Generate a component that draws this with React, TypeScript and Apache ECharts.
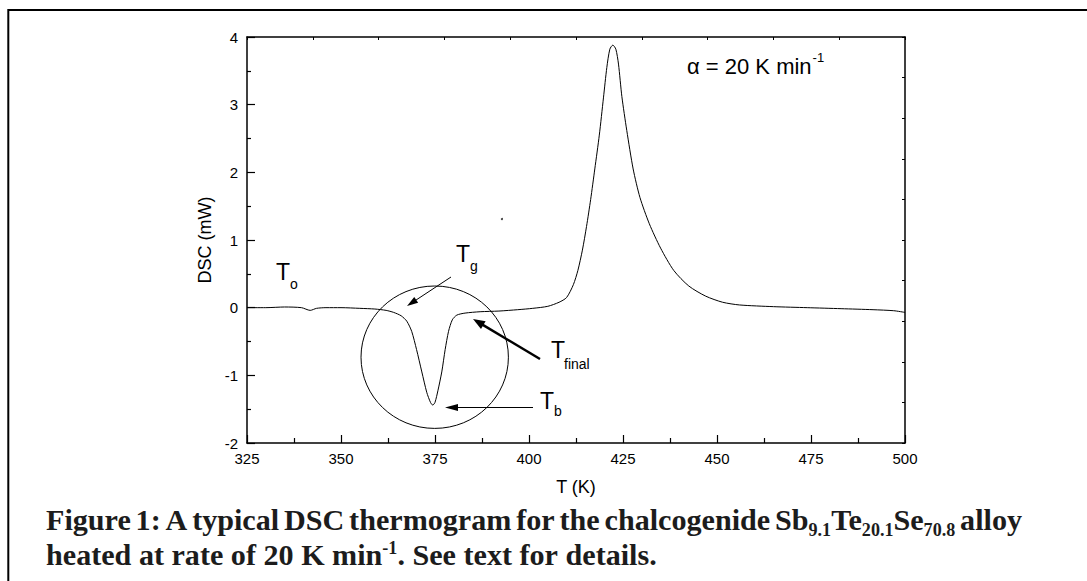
import React, { useEffect, useRef } from "react";
import * as echarts from "echarts";

// ---- data ----
const temperatureK = [
  325, 330, 335, 339.5, 341.8, 343.5, 346, 350, 355, 359, 362, 364, 366, 367.5, 368.8,
  370.1, 371.5, 372.8, 373.8, 374.4, 375.0, 375.8, 376.8, 377.7, 378.6, 379.6, 380.8,
  383, 387, 392, 397, 401, 405, 408, 410, 411.8, 413, 414.2, 415.3, 416.4, 417.5,
  418.7, 419.8, 420.7, 421.5, 422.3, 423.1, 423.8, 424.7, 426.0, 427.7, 429.5, 432,
  435, 438.5, 442.5, 447, 451.5, 456, 465, 474, 483, 491.5, 497, 500,
];
const dscMW = [
  0.0, 0.0, 0.01, 0.0, -0.04, -0.01, 0.0, 0.0, -0.01, -0.02, -0.04, -0.07, -0.12, -0.2,
  -0.35, -0.62, -0.95, -1.25, -1.4, -1.44, -1.4, -1.22, -0.95, -0.62, -0.35, -0.18,
  -0.11, -0.08, -0.06, -0.05, -0.03, -0.01, 0.02, 0.08, 0.15, 0.34, 0.55, 0.85, 1.2,
  1.6, 2.05, 2.55, 3.1, 3.55, 3.82, 3.88, 3.82, 3.6, 3.12, 2.62, 2.05, 1.63, 1.24,
  0.88, 0.55, 0.32, 0.17, 0.08, 0.04, 0.015, 0.0, -0.015, -0.03, -0.045, -0.07,
];
const strayPoint = [[392.8, 1.31]];
const xRange = [325, 500];
const xStep = 25;
const yRange = [-2, 4];
const yStep = 1;
const xName = "T (K)";
const yName = "DSC (mW)";
const rateText = "α = 20 K min";
const rateSup = "-1";
const captionLine1 =
  "Figure 1: A typical DSC thermogram for the chalcogenide Sb_{9.1}Te_{20.1}Se_{70.8} alloy";
const captionLine2 = "heated at rate of 20 K min^{-1}. See text for details.";

// ---- helpers ----
const SANS = "'Liberation Sans', Arial, sans-serif";
const SERIF = "'Liberation Serif', 'Times New Roman', serif";

function arrow(x1: number, y1: number, x2: number, y2: number, lw: number, hl: number, hw: number) {
  const dx = x2 - x1, dy = y2 - y1;
  const len = Math.hypot(dx, dy);
  const ux = dx / len, uy = dy / len;
  const bx = x2 - ux * hl, by = y2 - uy * hl;
  const px = -uy, py = ux;
  return [
    {
      type: "line",
      shape: { x1, y1, x2: bx + ux * 2, y2: by + uy * 2 },
      style: { stroke: "#000", lineWidth: lw },
      z: 10,
    },
    {
      type: "polygon",
      shape: {
        points: [
          [x2, y2],
          [bx + (px * hw) / 2, by + (py * hw) / 2],
          [bx - (px * hw) / 2, by - (py * hw) / 2],
        ],
      },
      style: { fill: "#000" },
      z: 10,
    },
  ];
}

function txt(t: string, x: number, y: number, size: number, extra: any = {}) {
  return {
    type: "text",
    x,
    y,
    z: 10,
    style: {
      text: t,
      fontFamily: SANS,
      fontSize: size,
      lineHeight: size,
      fill: "#000",
      align: "left",
      verticalAlign: "middle",
      ...extra,
    },
  };
}

type Seg = { t: string; k: "n" | "sub" | "sup" };
function parseSegs(word: string): Seg[] {
  const out: Seg[] = [];
  const re = /(_\{[^}]*\}|\^\{[^}]*\})/g;
  let last = 0;
  let m: RegExpExecArray | null;
  while ((m = re.exec(word))) {
    if (m.index > last) out.push({ t: word.slice(last, m.index), k: "n" });
    const s = m[0];
    out.push({ t: s.slice(2, -1), k: s[0] === "_" ? "sub" : "sup" });
    last = m.index + s.length;
  }
  if (last < word.length) out.push({ t: word.slice(last), k: "n" });
  return out;
}

export default function App() {
  const ref = useRef<HTMLDivElement>(null);

  useEffect(() => {
    if (!ref.current) return;
    const chart = echarts.init(ref.current, null, { renderer: "svg" });

    const canvas = document.createElement("canvas");
    const ctx = canvas.getContext("2d")!;
    const measure = (t: string, size: number) => {
      ctx.font = `bold ${size}px ${SERIF}`;
      return ctx.measureText(t).width;
    };
    const subScale = 0.6;
    const segW = (s: Seg, size: number) => measure(s.t, s.k === "n" ? size : size * subScale);
    const wordW = (w: string, size: number) =>
      parseSegs(w).reduce((a, s) => a + segW(s, size), 0);

    const capX0 = 46;
    const capX1 = 1022;
    const line2End = 657;
    const words1 = captionLine1.split(" ");
    const words2 = captionLine2.split(" ");
    const refSize = 22;
    const nat2 =
      words2.reduce((a, w) => a + wordW(w, refSize), 0) + measure(" ", refSize) * (words2.length - 1);
    const capSize = refSize * ((line2End - capX0) / nat2);
    const sp = measure(" ", capSize);

    const captionEls: any[] = [];
    const placeWord = (w: string, x: number, baseline: number) => {
      let cx = x;
      for (const s of parseSegs(w)) {
        const size = s.k === "n" ? capSize : capSize * subScale;
        let y = baseline - 0.34 * capSize;
        if (s.k === "sub") y = baseline + 0.2 * capSize - 0.34 * size;
        if (s.k === "sup") y = baseline - 0.36 * capSize - 0.34 * size;
        captionEls.push({
          type: "text",
          x: cx,
          y,
          z: 10,
          style: {
            text: s.t,
            fontFamily: SERIF,
            fontWeight: "bold",
            fontSize: size,
            lineHeight: size * 0.9,
            fill: "#1c1c1c",
            align: "left",
            verticalAlign: "middle",
          },
        });
        cx += segW(s, capSize);
      }
    };
    const sum1 = words1.reduce((a, w) => a + wordW(w, capSize), 0);
    const gap1 = (capX1 - capX0 - sum1) / (words1.length - 1);
    let x = capX0;
    for (const w of words1) {
      placeWord(w, x, 530);
      x += wordW(w, capSize) + gap1;
    }
    x = capX0;
    for (const w of words2) {
      placeWord(w, x, 565);
      x += wordW(w, capSize) + sp;
    }

    const rateSize = 22;
    ctx.font = `${rateSize}px ${SANS}`;
    const rateW = ctx.measureText(rateText).width;

    const axisLine = { show: true, onZero: false, lineStyle: { color: "#000", width: 1.5 } };

    const option: any = {
      animation: false,
      backgroundColor: "#fff",
      grid: { left: 247, top: 37, right: 182, bottom: 138, containLabel: false },
      xAxis: [
        {
          type: "value",
          min: xRange[0],
          max: xRange[1],
          interval: xStep,
          position: "bottom",
          axisLine,
          axisTick: { show: true, inside: true, length: 8, lineStyle: { color: "#000", width: 1.2 } },
          minorTick: { show: true, splitNumber: 2, length: 5, lineStyle: { color: "#000", width: 1.2 } },
          axisLabel: { color: "#000", fontFamily: SANS, fontSize: 15, margin: 8 },
          splitLine: { show: false },
        },
        {
          type: "value",
          min: 0,
          max: 10,
          interval: 1,
          position: "top",
          axisLine,
          axisTick: { show: true, inside: true, length: 3, lineStyle: { color: "#000", width: 1 } },
          axisLabel: { show: false },
          splitLine: { show: false },
        },
      ],
      yAxis: [
        {
          type: "value",
          min: yRange[0],
          max: yRange[1],
          interval: yStep,
          position: "left",
          axisLine,
          axisTick: { show: true, inside: true, length: 8, lineStyle: { color: "#000", width: 1.2 } },
          minorTick: { show: true, splitNumber: 2, length: 4, lineStyle: { color: "#000", width: 1.2 } },
          axisLabel: { color: "#000", fontFamily: SANS, fontSize: 15, margin: 9 },
          splitLine: { show: false },
        },
        {
          type: "value",
          min: 0,
          max: 10,
          interval: 1,
          position: "right",
          axisLine,
          axisTick: { show: true, inside: true, length: 3, lineStyle: { color: "#000", width: 1 } },
          axisLabel: { show: false },
          splitLine: { show: false },
        },
      ],
      series: [
        {
          type: "line",
          xAxisIndex: 0,
          yAxisIndex: 0,
          data: temperatureK.map((t, i) => [t, dscMW[i]]),
          showSymbol: false,
          smooth: 0.25,
          lineStyle: { color: "#000", width: 1 },
          silent: true,
        },
        {
          type: "scatter",
          xAxisIndex: 0,
          yAxisIndex: 0,
          data: strayPoint,
          symbolSize: 2,
          itemStyle: { color: "#000" },
          silent: true,
        },
      ],
      graphic: [
        {
          type: "rect",
          shape: { x: 8.3, y: 10, width: 1300, height: 900 },
          style: { fill: "none", stroke: "#000", lineWidth: 2 },
          z: 10,
        },
        {
          type: "ellipse",
          shape: { cx: 434.7, cy: 357.2, rx: 73.7, ry: 71.2 },
          style: { fill: "none", stroke: "#000", lineWidth: 1 },
          z: 10,
        },
        ...arrow(451, 277, 407, 306, 1, 11, 7),
        ...arrow(540, 359, 473, 319, 2.5, 12, 9),
        ...arrow(533, 407.5, 445, 407.5, 1, 13, 7),
        txt("T", 276, 271.5, 23),
        txt("o", 290, 284, 14),
        txt("T", 456, 253.5, 23),
        txt("g", 470, 266, 14),
        txt("T", 551, 350, 23),
        txt("final", 564, 363.5, 14),
        txt("T", 540, 401, 23),
        txt("b", 554, 411, 14),
        txt(rateText, 687, 66, rateSize),
        txt(rateSup, 687 + rateW + 1, 57, 13),
        txt(yName, 205, 240, 18, { align: "center" }),
        txt(xName, 576, 487, 18, { align: "center" }),
        ...captionEls,
      ],
    };
    const yNameEl = option.graphic.find((g: any) => g.style && g.style.text === yName);
    yNameEl.rotation = Math.PI / 2;

    chart.setOption(option);
    return () => chart.dispose();
  }, []);

  return (
    <div
      ref={ref}
      style={{ position: "fixed", left: 0, top: 0, width: 1087, height: 581, background: "#fff" }}
    />
  );
}
